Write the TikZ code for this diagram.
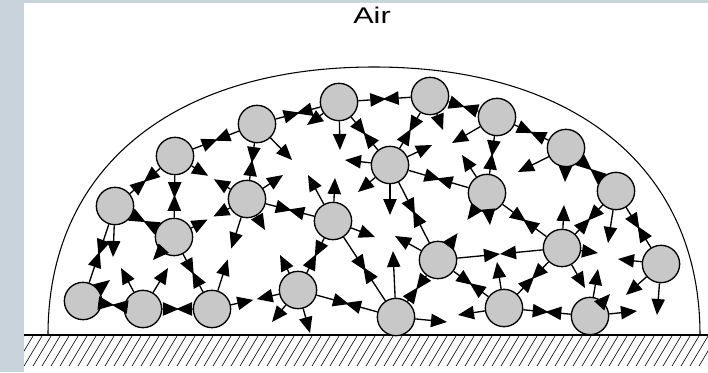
\documentclass[tikz,border=0pt]{standalone}
\usepackage{fontspec}
\setmainfont{Liberation Sans}
\usetikzlibrary{arrows.meta,calc}

\definecolor{framegray}{RGB}{200,211,219}
\definecolor{molgray}{RGB}{200,200,200}

\begin{document}
\begin{tikzpicture}[x=0.75pt,y=0.75pt,
    mol/.style={circle,draw,fill=molgray,line width=1pt,minimum size=28pt,inner sep=0pt},
    force/.style={-{Triangle[length=12pt,width=10pt]},line width=1pt}]

  % frame and white sheet
  \useasboundingbox (0,0) rectangle (708,-372);
  \fill[framegray] (0,0) rectangle (708,-372);
  \fill[white] (24,-3) rectangle (708,-372);

  \node[anchor=base,inner sep=0pt,font=\fontsize{17}{17}\selectfont] (air) at (372,-23) {\scalebox{1.35}[1]{Air}};

  % ground
  \begin{scope}
    \clip (24,-335) rectangle (708,-366);
    \foreach \x in {6,15,...,710}
      \draw[line width=0.45pt] (\x,-366) -- ++(18,30);
  \end{scope}
  \draw[line width=1.3pt] (24,-335) -- (708,-335);

  % drop outline
  \draw[line width=0.8pt] (48,-335) .. controls (48,-169) and (172,-67) .. (374,-67)
    .. controls (576,-67) and (700,-169) .. (700,-335);

  % molecules
  \node[mol] (m1) at (339,-102) {};
  \node[mol] (m2) at (430,-96) {};
  \node[mol] (m3) at (497,-117) {};
  \node[mol] (m4) at (566,-148) {};
  \node[mol] (m5) at (616,-191) {};
  \node[mol] (m6) at (257,-124) {};
  \node[mol] (m7) at (175,-156) {};
  \node[mol] (m8) at (115,-206) {};
  \node[mol] (m9) at (390,-165) {};
  \node[mol] (m10) at (487,-193) {};
  \node[mol] (m11) at (247,-199) {};
  \node[mol] (m12) at (174,-237) {};
  \node[mol] (m13) at (333,-221) {};
  \node[mol] (m14) at (562,-248) {};
  \node[mol] (m15) at (438,-260) {};
  \node[mol] (m16) at (661,-264) {};
  \node[mol] (m17) at (83,-301) {};
  \node[mol] (m18) at (143,-309) {};
  \node[mol] (m19) at (212,-309) {};
  \node[mol] (m20) at (298,-290) {};
  \node[mol] (m21) at (396,-317) {};
  \node[mol] (m22) at (504,-308) {};
  \node[mol] (m23) at (590,-316) {};

  % pulls between neighbours
  \foreach \a/\b/\f in {m1/m6/.52, m1/m2/.52, m1/m9/.52, m6/m7/.52, m6/m11/.52,
      m7/m8/.52, m7/m12/.52, m7/m11/.46, m8/m12/.52, m8/m17/.52, m12/m11/.46,
      m12/m19/.52, m17/m18/.52, m18/m19/.52, m19/m11/.45, m19/m20/.48,
      m11/m13/.52, m13/m20/.52, m13/m21/.52, m20/m21/.52, m21/m15/.52,
      m9/m10/.52, m9/m15/.52, m15/m22/.52, m15/m10/.40, m15/m14/.50,
      m10/m14/.52, m14/m5/.52, m5/m16/.52, m4/m5/.52, m3/m4/.52, m2/m3/.52,
      m2/m9/.52, m3/m10/.52, m14/m22/.52, m22/m23/.52}
  {
    \draw[force] (\a) -- ($(\a)!\f!(\b)$);
    \draw[force] (\b) -- ($(\b)!\f!(\a)$);
  }

  % loose pulls
  \foreach \a/\dx/\dy in {m1/1/-48, m1/-32/-23, m6/35/-36, m11/18/-31, m11/36/24,
      m12/-21/-23, m8/-2/-51, m17/27/21, m18/-22/41, m18/25/41,
      m13/-25/46, m13/2/43, m13/42/-16, m9/-32/-27, m9/0/-50, m9/-45/5, m9/42/20,
      m20/-18/35, m20/-26/-32, m20/12/-43, m21/-3/66, m21/51/-5, m15/-43/24,
      m10/-25/38, m10/3/-32, m2/13/-34, m3/-45/-26, m4/-48/-24, m4/-1/-34,
      m14/2/43, m14/36/-5, m14/23/-40, m5/-8/-52, m16/-43/5, m16/-35/-31,
      m16/-4/-51, m22/-46/-7, m22/-7/46, m23/8/47, m23/20/22, m23/47/5}
    \draw[force] (\a) -- ++(\dx,\dy);
\end{tikzpicture}
\end{document}
